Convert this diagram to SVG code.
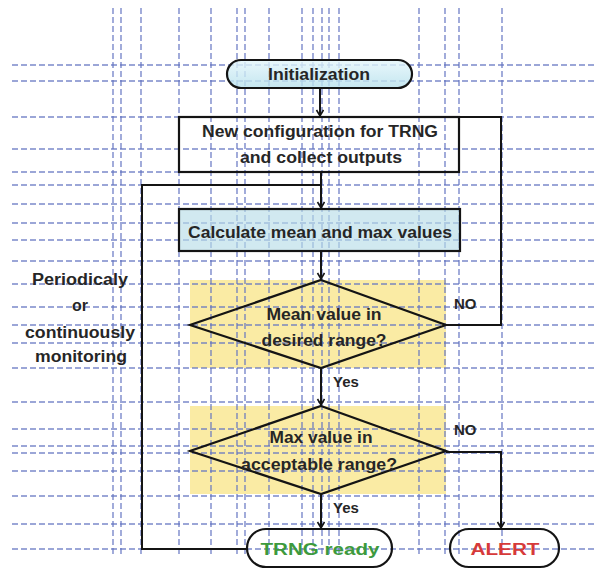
<svg xmlns="http://www.w3.org/2000/svg" width="597" height="570" viewBox="0 0 597 570">
  <defs>
    <style>
      .t { font-family: "Liberation Sans", Arial, sans-serif; font-size: 16px; font-weight: bold; fill: #262626; text-anchor: middle; }
      .lbl { font-family: "Liberation Sans", Arial, sans-serif; font-size: 15px; font-weight: bold; fill: #262626; }
      .grid line { stroke: #6475c2; stroke-width: 1.4; stroke-dasharray: 6 3; opacity: 0.85; }
      .edge { fill: none; stroke: #141414; stroke-width: 2; }
      .shape { stroke: #141414; stroke-width: 2.2; }
    </style>
    <linearGradient id="initFill" x1="0" y1="0" x2="0" y2="1">
      <stop offset="0" stop-color="#e4f6fb"/>
      <stop offset="1" stop-color="#b6e0ec"/>
    </linearGradient>
    <marker id="arr" markerWidth="10" markerHeight="10" refX="7" refY="4" orient="auto" markerUnits="userSpaceOnUse">
      <path d="M1,0.5 L7,4 L1,7.5" fill="none" stroke="#141414" stroke-width="1.6"/>
    </marker>
  </defs>

  <rect width="597" height="570" fill="#ffffff"/>

  <!-- yellow highlight areas behind decisions -->
  <rect x="190" y="280" width="256" height="88" fill="#f6d84a" fill-opacity="0.5"/>
  <rect x="190" y="406" width="256" height="88" fill="#f6d84a" fill-opacity="0.5"/>

  <!-- guide grid -->
  <g class="grid">
    <line x1="12" y1="65" x2="597" y2="65"/>
    <line x1="12" y1="81" x2="597" y2="81"/>
    <line x1="12" y1="117" x2="597" y2="117"/>
    <line x1="12" y1="149" x2="597" y2="149"/>
    <line x1="12" y1="172" x2="597" y2="172"/>
    <line x1="12" y1="185" x2="597" y2="185"/>
    <line x1="12" y1="204" x2="597" y2="204"/>
    <line x1="12" y1="223" x2="597" y2="223"/>
    <line x1="12" y1="240" x2="597" y2="240"/>
    <line x1="12" y1="261" x2="597" y2="261"/>
    <line x1="12" y1="284" x2="597" y2="284"/>
    <line x1="12" y1="307" x2="597" y2="307"/>
    <line x1="12" y1="325" x2="597" y2="325"/>
    <line x1="12" y1="343" x2="597" y2="343"/>
    <line x1="12" y1="368" x2="597" y2="368"/>
    <line x1="12" y1="402" x2="597" y2="402"/>
    <line x1="12" y1="429" x2="597" y2="429"/>
    <line x1="12" y1="446" x2="597" y2="446"/>
    <line x1="12" y1="453" x2="597" y2="453"/>
    <line x1="12" y1="471" x2="597" y2="471"/>
    <line x1="12" y1="496" x2="597" y2="496"/>
    <line x1="12" y1="524" x2="597" y2="524"/>
    <line x1="12" y1="549" x2="597" y2="549"/>

    <line x1="113" y1="8" x2="113" y2="556"/>
    <line x1="121" y1="8" x2="121" y2="556"/>
    <line x1="141" y1="8" x2="141" y2="556"/>
    <line x1="179" y1="8" x2="179" y2="556"/>
    <line x1="211" y1="8" x2="211" y2="556"/>
    <line x1="237" y1="8" x2="237" y2="556"/>
    <line x1="245" y1="8" x2="245" y2="556"/>
    <line x1="269" y1="8" x2="269" y2="556"/>
    <line x1="302" y1="8" x2="302" y2="556"/>
    <line x1="313" y1="8" x2="313" y2="556"/>
    <line x1="322" y1="8" x2="322" y2="556"/>
    <line x1="329" y1="8" x2="329" y2="556"/>
    <line x1="339" y1="8" x2="339" y2="556"/>
    <line x1="419" y1="8" x2="419" y2="556"/>
    <line x1="445" y1="8" x2="445" y2="556"/>
    <line x1="459" y1="8" x2="459" y2="556"/>
    <line x1="502" y1="8" x2="502" y2="556"/>
  </g>

  <!-- connectors -->
  <g id="connectors">
    <line class="edge" x1="320" y1="88" x2="320" y2="116" marker-end="url(#arr)"/>
    <line class="edge" x1="321" y1="172" x2="321" y2="208" marker-end="url(#arr)"/>
    <line class="edge" x1="321" y1="251" x2="321" y2="279" marker-end="url(#arr)"/>
    <line class="edge" x1="321" y1="368" x2="321" y2="405" marker-end="url(#arr)"/>
    <line class="edge" x1="321" y1="494" x2="321" y2="528" marker-end="url(#arr)"/>
    <polyline class="edge" points="446,325 501,325 501,117 459,117"/>
    <polyline class="edge" points="446,452 501,452 501,528" marker-end="url(#arr)"/>
    <polyline class="edge" points="247,549 142,549 142,185 321,185"/>
    <text class="lbl" x="454" y="309">NO</text>
    <text class="lbl" x="454" y="435">NO</text>
    <text class="lbl" x="333" y="387">Yes</text>
    <text class="lbl" x="333" y="513">Yes</text>
  </g>

  <!-- nodes -->
  <g id="init">
    <rect class="shape" x="227" y="60" width="185" height="28" rx="14" fill="url(#initFill)" fill-opacity="0.8"/>
    <text class="t" x="319" y="80" textLength="102" lengthAdjust="spacingAndGlyphs">Initialization</text>
  </g>

  <g id="config">
    <rect class="shape" x="179" y="117" width="280" height="55" fill="none"/>
    <text class="t" x="320" y="137" textLength="236" lengthAdjust="spacingAndGlyphs">New configuration for TRNG</text>
    <text class="t" x="321" y="163" textLength="162" lengthAdjust="spacingAndGlyphs">and collect outputs</text>
  </g>

  <g id="calc">
    <rect class="shape" x="179" y="209" width="281" height="42" fill="#b8dde8" fill-opacity="0.65"/>
    <text class="t" x="320" y="238" textLength="264" lengthAdjust="spacingAndGlyphs">Calculate mean and max values</text>
  </g>

  <g id="mean-check">
    <polygon class="shape" points="321,280 446,325 321,368 190,325" fill="none"/>
    <text class="t" x="324" y="320" textLength="115" lengthAdjust="spacingAndGlyphs">Mean value in</text>
    <text class="t" x="324" y="346" textLength="125" lengthAdjust="spacingAndGlyphs">desired range?</text>
  </g>

  <g id="max-check">
    <polygon class="shape" points="321,406 446,451 321,494 190,451" fill="none"/>
    <text class="t" x="321" y="443" textLength="103" lengthAdjust="spacingAndGlyphs">Max value in</text>
    <text class="t" x="319" y="470" textLength="156" lengthAdjust="spacingAndGlyphs">acceptable range?</text>
  </g>

  <g id="trng-ready">
    <rect class="shape" x="247" y="529" width="145" height="38" rx="19" fill="none"/>
    <text class="t" x="320" y="555" textLength="119" lengthAdjust="spacingAndGlyphs" style="fill:#3d9a3d">TRNG ready</text>
  </g>

  <g id="alert">
    <rect class="shape" x="450" y="529" width="109" height="38" rx="19" fill="none"/>
    <text class="t" x="505" y="555" textLength="69" lengthAdjust="spacingAndGlyphs" style="fill:#d63a3a">ALERT</text>
  </g>

  <g id="monitor-note">
    <text class="t" x="80" y="285" textLength="96" lengthAdjust="spacingAndGlyphs">Periodicaly</text>
    <text class="t" x="80" y="311">or</text>
    <text class="t" x="80" y="338" textLength="110" lengthAdjust="spacingAndGlyphs">continuously</text>
    <text class="t" x="81" y="362" textLength="92" lengthAdjust="spacingAndGlyphs">monitoring</text>
  </g>
</svg>
